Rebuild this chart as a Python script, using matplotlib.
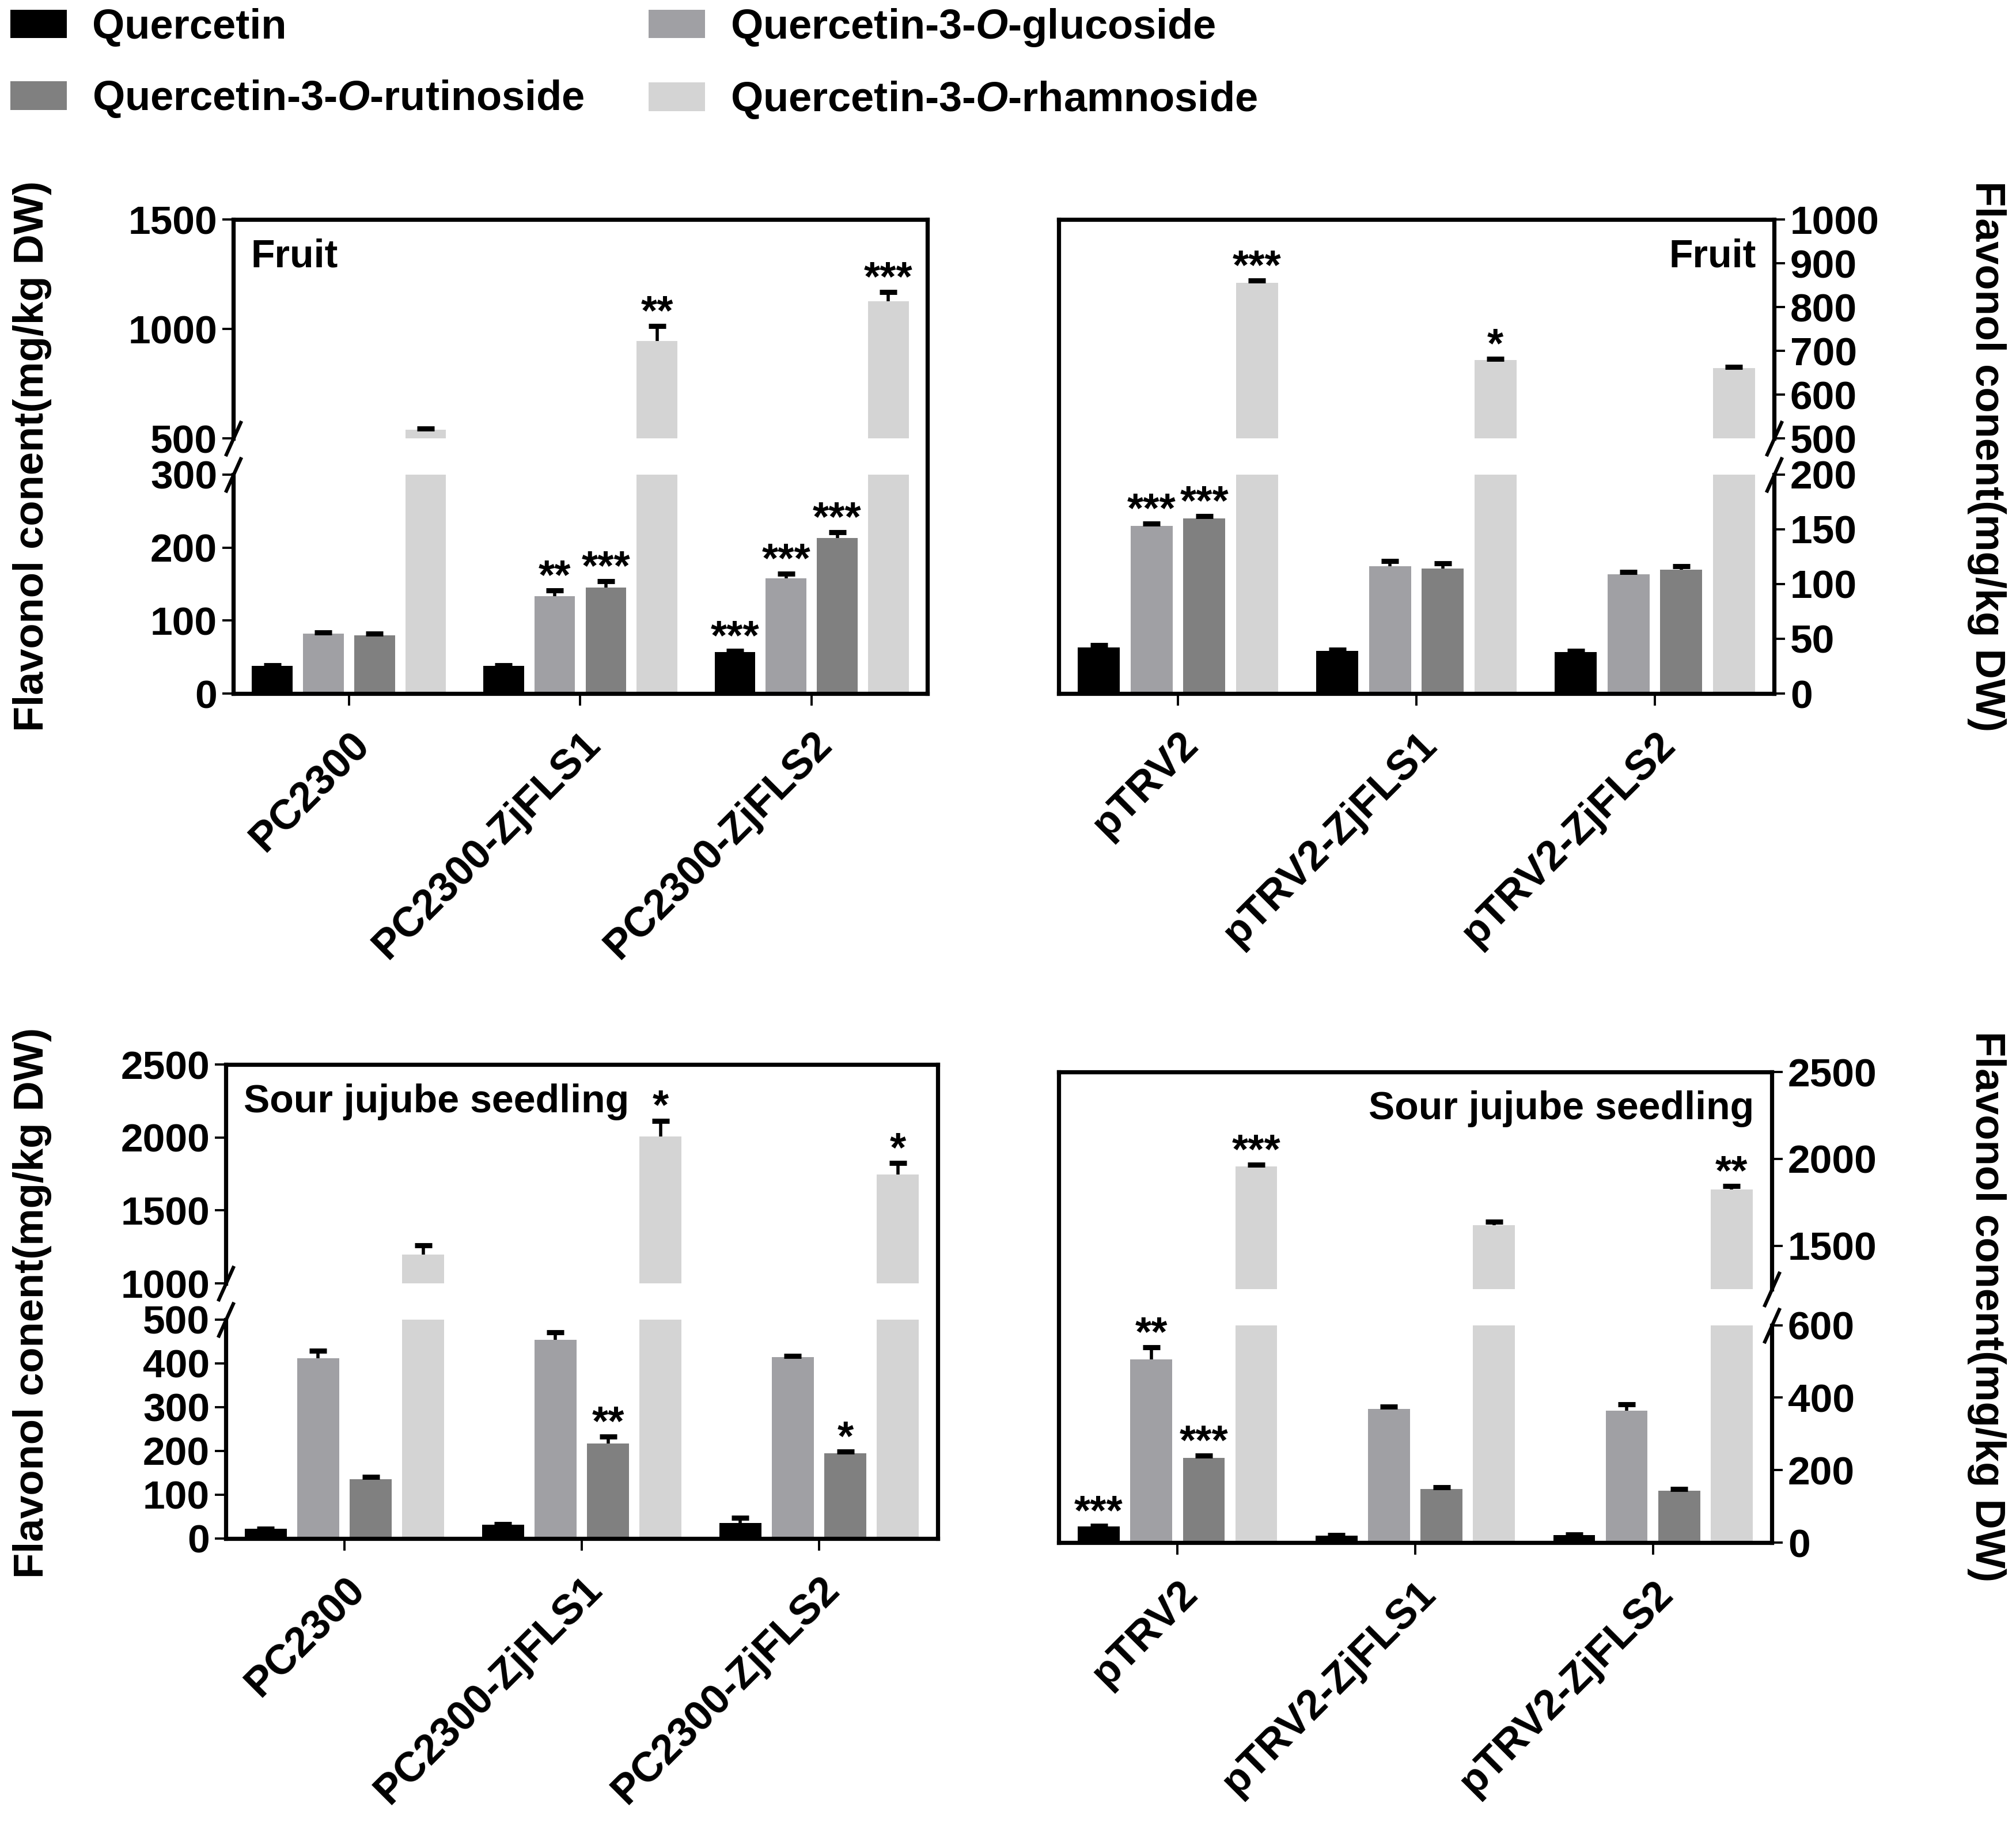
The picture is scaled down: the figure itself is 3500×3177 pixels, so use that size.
import numpy as np
import matplotlib
matplotlib.use("Agg")
import matplotlib.pyplot as plt

plt.rcParams['font.family'] = ['Liberation Sans', 'DejaVu Sans']
plt.rcParams['font.weight'] = 'bold'
plt.rcParams['mathtext.fontset'] = 'custom'
plt.rcParams['mathtext.rm'] = 'Liberation Sans:bold'
plt.rcParams['mathtext.it'] = 'Liberation Sans:italic:bold'
plt.rcParams['mathtext.bf'] = 'Liberation Sans:bold'

# ---- data ----
compounds = ["Quercetin",
             "Quercetin-3-$\\mathit{O}$-glucoside",
             "Quercetin-3-$\\mathit{O}$-rutinoside",
             "Quercetin-3-$\\mathit{O}$-rhamnoside"]
colors = ["#000000", "#a0a0a4", "#808080", "#d4d4d4"]

groups_pc = ["PC2300", "PC2300-ZjFLS1", "PC2300-ZjFLS2"]
groups_trv = ["pTRV2", "pTRV2-ZjFLS1", "pTRV2-ZjFLS2"]

# fruit, overexpression (PC2300)
fruit_pc_quer = [38, 38, 57]
fruit_pc_gluc = [82, 133, 158]
fruit_pc_rut = [80, 145, 213]
fruit_pc_rham = [540, 944, 1126]
fruit_pc_quer_err = [1, 1, 1]
fruit_pc_gluc_err = [2, 8, 6]
fruit_pc_rut_err = [2, 9, 8]
fruit_pc_rham_err = [5, 70, 43]
fruit_pc_stars = [["", "", "***"], ["", "**", "***"], ["", "***", "***"], ["", "**", "***"]]

# fruit, silencing (pTRV2)
fruit_trv_quer = [42, 39, 38]
fruit_trv_gluc = [153, 116, 109]
fruit_trv_rut = [160, 114, 113]
fruit_trv_rham = [856, 679, 661]
fruit_trv_quer_err = [2, 1, 1]
fruit_trv_gluc_err = [2, 5, 2]
fruit_trv_rut_err = [2, 5, 3]
fruit_trv_rham_err = [4, 3, 2]
fruit_trv_stars = [["", "", ""], ["***", "", ""], ["***", "", ""], ["***", "*", ""]]

# seedling, overexpression (PC2300)
seed_pc_quer = [22, 32, 35]
seed_pc_gluc = [412, 454, 414]
seed_pc_rut = [135, 217, 195]
seed_pc_rham = [1200, 2005, 1745]
seed_pc_quer_err = [1, 1, 12]
seed_pc_gluc_err = [17, 17, 3]
seed_pc_rut_err = [6, 16, 3]
seed_pc_rham_err = [60, 110, 80]
seed_pc_stars = [["", "", ""], ["", "", ""], ["", "**", "*"], ["", "*", "*"]]

# seedling, silencing (pTRV2)
seed_trv_quer = [44, 19, 21]
seed_trv_gluc = [505, 369, 364]
seed_trv_rut = [233, 148, 143]
seed_trv_rham = [1957, 1619, 1826]
seed_trv_quer_err = [2, 1, 1]
seed_trv_gluc_err = [34, 6, 18]
seed_trv_rut_err = [7, 4, 5]
seed_trv_rham_err = [10, 20, 18]
seed_trv_stars = [["***", "", ""], ["**", "", ""], ["***", "", ""], ["***", "", "**"]]

# ---- layout helpers (pixels of the 3500x3177 canvas) ----
W, H = 3500.0, 3177.0
FS = 25
LW = 2.6

fig = plt.figure(figsize=(17.5, 15.885), dpi=200)


def panel(x0, x1, ytop, ybot, side, groups, vals, errs, stars,
          low_lim, up_lim, low_ticks, up_ticks, tag):
    h = ybot - ytop
    seg = 0.462 * h
    w = (x1 - x0) / W
    ax_up = fig.add_axes([x0 / W, 1 - (ytop + seg) / H, w, seg / H])
    ax_lo = fig.add_axes([x0 / W, 1 - ybot / H, w, seg / H])
    frame = fig.add_axes([x0 / W, 1 - ybot / H, w, h / H])
    frame.set_xticks([])
    frame.set_yticks([])
    frame.patch.set_alpha(0)
    axside = 'left' if side == 'left' else 'right'
    other = 'right' if side == 'left' else 'left'
    for s in ['top', 'bottom', other]:
        frame.spines[s].set_linewidth(LW)
    frame.spines[axside].set_visible(False)
    frame.set_zorder(5)

    x = np.arange(len(groups))
    pitch = 0.221
    width = 0.176
    handles = []
    for ax in (ax_up, ax_lo):
        ax.patch.set_alpha(0)
        for s in ax.spines:
            ax.spines[s].set_visible(s == axside)
        ax.spines[axside].set_linewidth(LW)
        for i in range(4):
            xi = x + (i - 1.5) * pitch
            v = np.array(vals[i], dtype=float)
            e = np.array(errs[i], dtype=float)
            b = ax.bar(xi, v, width, color=colors[i], zorder=2)
            # upper error bar only: stem + single cap
            ax.errorbar(xi, v, yerr=[np.zeros(len(v)), e], fmt='none',
                        ecolor='k', elinewidth=2.0, capsize=0, zorder=3)
            ax.plot(xi, v + e, linestyle='none', marker='_', markersize=11,
                    mew=3.2, color='k', zorder=3)
            if ax is ax_lo:
                handles.append(b)
        ax.set_xlim(-0.5, len(groups) - 0.5)
        ax.tick_params(axis='y', direction='out', length=7, width=1.4,
                       labelsize=FS, pad=3)
        if side == 'right':
            ax.yaxis.tick_right()

    ax_up.set_ylim(*up_lim)
    ax_lo.set_ylim(*low_lim)
    ax_up.set_yticks(up_ticks)
    ax_lo.set_yticks(low_ticks)
    ax_up.set_xticks([])
    ax_lo.set_xticks(x)
    ax_lo.set_xticklabels(groups, rotation=45, ha='right',
                          rotation_mode='anchor', fontsize=26)
    ax_lo.tick_params(axis='x', direction='out', length=7.5, width=1.4, pad=12)

    # significance stars
    for i in range(4):
        for j in range(len(groups)):
            if stars[i][j]:
                top = vals[i][j] + errs[i][j]
                target = ax_lo if top <= low_lim[1] else ax_up
                target.annotate(stars[i][j], (x[j] + (i - 1.5) * pitch, top),
                                xytext=(0, 8), textcoords='offset points',
                                ha='center', va='center', fontsize=26,
                                annotation_clip=False, zorder=6)

    # break marks
    sx = 0 if side == 'left' else 1
    kw = dict(marker=[(-0.45, -1), (0.45, 1)], markersize=22, linestyle='none',
              color='k', mec='k', mew=2.2, clip_on=False)
    ax_up.plot([sx], [0], transform=ax_up.transAxes, **kw)
    ax_lo.plot([sx], [1], transform=ax_lo.transAxes, **kw)

    # panel tag
    if side == 'left':
        ax_up.text(0.025, 0.83, tag, transform=ax_up.transAxes, ha='left',
                   va='center', fontsize=24.5)
    else:
        ax_up.text(0.975, 0.83, tag, transform=ax_up.transAxes, ha='right',
                   va='center', fontsize=24.5)
    return handles


h = panel(405, 1610, 381, 1204, 'left', groups_pc,
          [fruit_pc_quer, fruit_pc_gluc, fruit_pc_rut, fruit_pc_rham],
          [fruit_pc_quer_err, fruit_pc_gluc_err, fruit_pc_rut_err, fruit_pc_rham_err],
          fruit_pc_stars, (0, 300), (500, 1500),
          [0, 100, 200, 300], [500, 1000, 1500], "Fruit")

panel(1838, 3080, 381, 1204, 'right', groups_trv,
      [fruit_trv_quer, fruit_trv_gluc, fruit_trv_rut, fruit_trv_rham],
      [fruit_trv_quer_err, fruit_trv_gluc_err, fruit_trv_rut_err, fruit_trv_rham_err],
      fruit_trv_stars, (0, 200), (500, 1000),
      [0, 50, 100, 150, 200], [500, 600, 700, 800, 900, 1000], "Fruit")

panel(392, 1628, 1848, 2671, 'left', groups_pc,
      [seed_pc_quer, seed_pc_gluc, seed_pc_rut, seed_pc_rham],
      [seed_pc_quer_err, seed_pc_gluc_err, seed_pc_rut_err, seed_pc_rham_err],
      seed_pc_stars, (0, 500), (1000, 2500),
      [0, 100, 200, 300, 400, 500], [1000, 1500, 2000, 2500], "Sour jujube seedling")

panel(1838, 3076, 1861, 2678, 'right', groups_trv,
      [seed_trv_quer, seed_trv_gluc, seed_trv_rut, seed_trv_rham],
      [seed_trv_quer_err, seed_trv_gluc_err, seed_trv_rut_err, seed_trv_rham_err],
      seed_trv_stars, (0, 600), (1250, 2500),
      [0, 200, 400, 600], [1500, 2000, 2500], "Sour jujube seedling")

# y labels
ylab = "Flavonol conent(mg/kg DW)"
fig.text(56 / W, 1 - 792 / H, ylab, rotation=90, ha='center', va='center', fontsize=26)
fig.text(3449 / W, 1 - 792 / H, ylab, rotation=-90, ha='center', va='center', fontsize=26)
fig.text(56 / W, 1 - 2262 / H, ylab, rotation=90, ha='center', va='center', fontsize=26)
fig.text(3449 / W, 1 - 2268 / H, ylab, rotation=-90, ha='center', va='center', fontsize=26)

# legend (row-wise: Quercetin, glucoside / rutinoside, rhamnoside)
order = [0, 2, 1, 3]
fig.legend([h[i] for i in order], [compounds[i] for i in order],
           loc='upper left', bbox_to_anchor=(18 / W, 1 - 12 / H), ncol=2,
           frameon=False, fontsize=26, handlelength=1.36, handleheight=0.68,
           handletextpad=0.6, columnspacing=1.55, labelspacing=0.75,
           borderaxespad=0, borderpad=0)

fig.savefig("out.png", dpi=200)
